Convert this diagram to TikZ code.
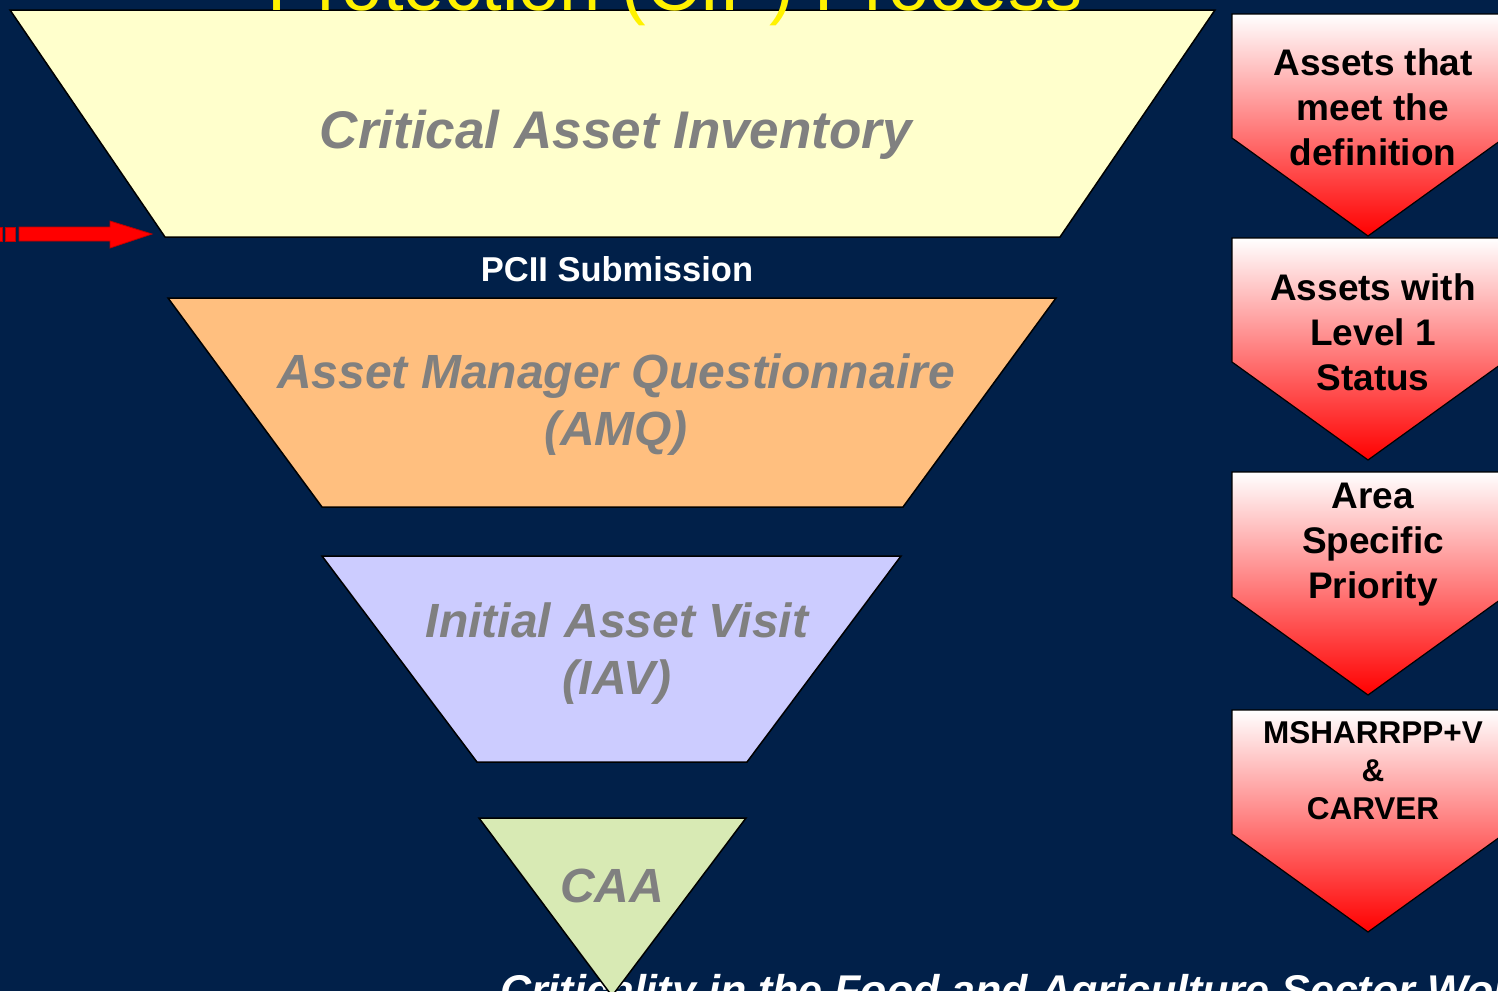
\documentclass[tikz,border=0pt]{standalone}
\usepackage{fontspec}
\setmainfont{Liberation Sans}
\usepackage{xcolor}

\definecolor{slidebg}{HTML}{012049}
\definecolor{invfill}{HTML}{FFFFCC}
\definecolor{amqfill}{HTML}{FFBF7F}
\definecolor{iavfill}{HTML}{CCCCFF}
\definecolor{caafill}{HTML}{D8EAB4}
\definecolor{stagegray}{HTML}{808080}

\begin{document}
\begin{tikzpicture}[x=1pt,y=-1pt,
	  stage/.style={draw=black,line width=1.5pt},
	  stagelabel/.style={text=stagegray,inner sep=0pt,align=center,
	    font=\fontsize{48}{57}\selectfont\bfseries\itshape},
	  tag/.style={draw=black,line width=1.2pt,top color=white,middle color=red!12,bottom color=red},
	  taglabel/.style={inner sep=0pt,align=center,font=\fontsize{37}{45}\selectfont\bfseries}]

	  \useasboundingbox (0,0) rectangle (1498,991);
	  \clip (0,0) rectangle (1498,991);
	  \fill[slidebg] (0,0) rectangle (1498,991);

	  % footer, partly hidden by the last stage
	  \node[anchor=base west,inner sep=0pt,text=white,font=\fontsize{43}{48}\selectfont\bfseries\itshape]
	    (footer) at (500,1005) {Criticality in the Food and Agriculture Sector Wor};

	  % funnel
	  \draw[stage,fill=invfill] (10,10) coordinate (inv-nw) -- (1215,10) coordinate (inv-ne)
	    -- (1060,237) coordinate (inv-se) -- (165,237) coordinate (inv-sw) -- cycle;
	  \draw[stage,fill=amqfill] (168,298) coordinate (amq-nw) -- (1056,298) coordinate (amq-ne)
	    -- (903,507) coordinate (amq-se) -- (322,507) coordinate (amq-sw) -- cycle;
	  \draw[stage,fill=iavfill] (322,556) coordinate (iav-nw) -- (901,556) coordinate (iav-ne)
	    -- (747,762) coordinate (iav-se) -- (477,762) coordinate (iav-sw) -- cycle;
	  \draw[stage,fill=caafill] (479,818) coordinate (caa-nw) -- (746,818) coordinate (caa-ne)
	    -- (612,996) coordinate (caa-s) -- cycle;

	  \node[anchor=base,inner sep=0pt,text=yellow,font=\fontsize{74}{80}\selectfont]
	    (title) at (675,10) {Protection (CIP) Process};

	  \node[stagelabel,anchor=base,font=\fontsize{53}{60}\selectfont\bfseries\itshape]
	    (inv) at (616,148) {Critical Asset Inventory};
	  \node[stagelabel,anchor=north] (amq) at (616,354) {Asset Manager Questionnaire\\(AMQ)};
	  \node[stagelabel,anchor=north] (iav) at (617,603) {Initial Asset Visit\\(IAV)};
	  \node[stagelabel,anchor=base] (caa) at (612,902) {CAA};

	  \node[anchor=base,inner sep=0pt,text=white,font=\fontsize{34.5}{40}\selectfont\bfseries]
	    (pcii) at (617,281) {PCII Submission};

	  % red feed arrow at the mouth of the funnel
	  \coordinate (feed-tip) at (152,234);
	  \fill[red,draw=red!75!black,line width=0.8pt] (19,227) -- (110,227) -- (110,221) -- (feed-tip)
	    -- (110,248) -- (110,241) -- (19,241) -- cycle;
	  \fill[red,draw=red!75!black,line width=0.8pt] (5,227) rectangle (15,241);
	  \fill[red,draw=red!75!black,line width=0.8pt] (-6,227) rectangle (2,241);

	  % result tags
	  \foreach \top/\side/\tip/\name in {14/138/236/def,238/362/460/lvl,472/597/695/asp,710/834/932/msh}
	    \draw[tag] (1232,\top) -- (1504,\top) -- (1504,\side) -- (1368,\tip) coordinate (\name-tip)
	      -- (1232,\side) -- cycle;

	  \node[taglabel,anchor=north] (def) at (1373,48) {Assets that\\meet the\\definition};
	  \node[taglabel,anchor=north] (lvl) at (1373,273) {Assets with\\Level 1\\Status};
	  \node[taglabel,anchor=north] (asp) at (1373,483) {Area\\Specific\\Priority};
	  \node[taglabel,anchor=north,font=\fontsize{31.5}{38}\selectfont\bfseries]
	    (msh) at (1373,721) {MSHARRPP+V\\\&\\CARVER};
	\end{tikzpicture}
\end{document}
